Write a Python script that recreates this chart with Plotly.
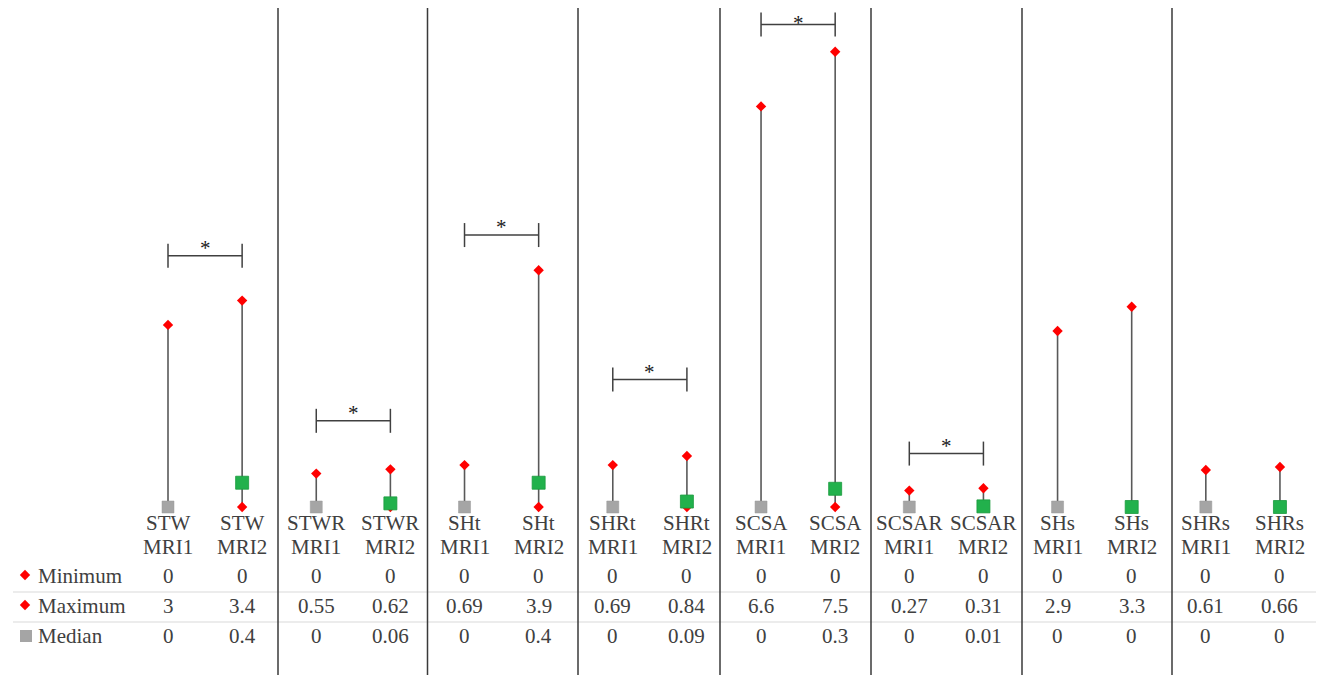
import plotly.graph_objects as go

# data
measures = ["STW", "STWR", "SHt", "SHRt", "SCSA", "SCSAR", "SHs", "SHRs"]
scans = ["MRI1", "MRI2"]
minimum = [0, 0, 0, 0, 0, 0, 0, 0, 0, 0, 0, 0, 0, 0, 0, 0]
maximum = [3, 3.4, 0.55, 0.62, 0.69, 3.9, 0.69, 0.84, 6.6, 7.5, 0.27, 0.31, 2.9, 3.3, 0.61, 0.66]
median = [0, 0.4, 0, 0.06, 0, 0.4, 0, 0.09, 0, 0.3, 0, 0.01, 0, 0, 0, 0]
row_names = ["Minimum", "Maximum", "Median"]
# significance brackets: (left category index, bracket height in data units)
sig_pairs = [(0, 4.14), (2, 1.42), (4, 4.48), (6, 2.10), (8, 7.95), (10, 0.88)]

labels = [(m, s) for m in measures for s in scans]
n = len(labels)
xs = list(range(n))

# page geometry (pixels); the page body adds an 8px margin
OFF = 8
W, H = 1325 - 2 * OFF, 683 - 2 * OFF
X0_PX, DX = 168, 74.13       # centre of first category, category width
Y0_PX, PPU = 507, 60.7       # pixel of value 0, pixels per unit
SEP_PX = [278, 427.5, 578, 720, 871, 1022, 1172]

def ypx(p):
    return (Y0_PX - p) / PPU

def xpx(p):
    return (p - X0_PX) / DX

TXT = "#404040"
FAM = "Liberation Serif"
FONT = dict(family=FAM, size=21, color=TXT)
RED = "#FF0000"
GREY = "#A5A5A5"
GREEN = "#22B14C"

fig = go.Figure()

# high-low lines
lx, ly = [], []
for i in xs:
    lx += [i, i, None]
    ly += [minimum[i], maximum[i], None]
fig.add_trace(go.Scatter(x=lx, y=ly, mode="lines", line=dict(color="#595959", width=1.6),
                         hoverinfo="skip", showlegend=False))

# min / max diamonds
fig.add_trace(go.Scatter(x=xs, y=minimum, mode="markers", name="Minimum",
                         marker=dict(symbol="diamond", size=8, color=RED), showlegend=False))
fig.add_trace(go.Scatter(x=xs, y=maximum, mode="markers", name="Maximum",
                         marker=dict(symbol="diamond", size=8, color=RED), showlegend=False))

# medians
m1 = [i for i in xs if labels[i][1] == "MRI1"]
m2 = [i for i in xs if labels[i][1] == "MRI2"]
fig.add_trace(go.Scatter(x=m1, y=[median[i] for i in m1], mode="markers", name="Median MRI1",
                         marker=dict(symbol="square", size=12, color=GREY, line=dict(color="#999999", width=0.5)),
                         showlegend=False))
fig.add_trace(go.Scatter(x=m2, y=[median[i] for i in m2], mode="markers", name="Median MRI2",
                         marker=dict(symbol="square", size=13, color=GREEN, line=dict(color="#1A9A3E", width=0.8)),
                         showlegend=False))

# legend keys in the table's first column
fig.add_trace(go.Scatter(x=[xpx(25), xpx(25)], y=[ypx(575), ypx(605)], mode="markers",
                         marker=dict(symbol="diamond", size=8, color=RED), hoverinfo="skip", showlegend=False))
fig.add_trace(go.Scatter(x=[xpx(26)], y=[ypx(636)], mode="markers",
                         marker=dict(symbol="square", size=12, color=GREY), hoverinfo="skip", showlegend=False))

annotations = []
shapes = []

# category labels
for i, (m, s) in enumerate(labels):
    annotations.append(dict(x=i, y=ypx(523), text=m, showarrow=False, font=FONT, yanchor="middle"))
    annotations.append(dict(x=i, y=ypx(547), text=s, showarrow=False, font=FONT, yanchor="middle"))

# data table
rows = [minimum, maximum, median]
row_px = [576, 606, 636]
for r, (name, vals) in enumerate(zip(row_names, rows)):
    annotations.append(dict(x=xpx(36), y=ypx(row_px[r]), text=name, showarrow=False, font=FONT,
                            xanchor="left", yanchor="middle"))
    for i in xs:
        annotations.append(dict(x=i, y=ypx(row_px[r]), text=f"{vals[i]:g}", showarrow=False,
                                font=FONT, yanchor="middle"))

for yp in [592, 622]:
    shapes.append(dict(type="line", xref="x", yref="y", x0=xpx(13), x1=xpx(1316),
                       y0=ypx(yp), y1=ypx(yp), line=dict(color="#D9D9D9", width=1.2), layer="below"))

# group separators
for sp in SEP_PX:
    shapes.append(dict(type="line", xref="x", yref="y", x0=xpx(sp), x1=xpx(sp),
                       y0=ypx(3), y1=ypx(680), line=dict(color="#3A3A3A", width=1.5)))

# significance brackets
tick = 12 / PPU
for a, yb in sig_pairs:
    b = a + 1
    shapes.append(dict(type="line", xref="x", yref="y", x0=a, x1=b, y0=yb, y1=yb,
                       line=dict(color="#404040", width=1.5)))
    for xe in (a, b):
        shapes.append(dict(type="line", xref="x", yref="y", x0=xe, x1=xe, y0=yb - tick, y1=yb + tick,
                           line=dict(color="#404040", width=1.5)))
    line_px = Y0_PX - yb * PPU
    star_top = max(line_px - 22, OFF + 0.5)
    annotations.append(dict(x=(a + b) / 2, y=ypx(star_top), text="*", showarrow=False, yanchor="top",
                            font=dict(family=FAM, size=21, color="#202020")))

fig.update_layout(
    width=W, height=H,
    margin=dict(l=0, r=0, t=0, b=0),
    paper_bgcolor="white", plot_bgcolor="white",
    xaxis=dict(range=[xpx(OFF), xpx(OFF + W)], visible=False, fixedrange=True),
    yaxis=dict(range=[ypx(OFF + H), ypx(OFF)], visible=False, fixedrange=True),
    annotations=annotations,
    shapes=shapes,
    showlegend=False,
)

fig.write_html("out.html")
